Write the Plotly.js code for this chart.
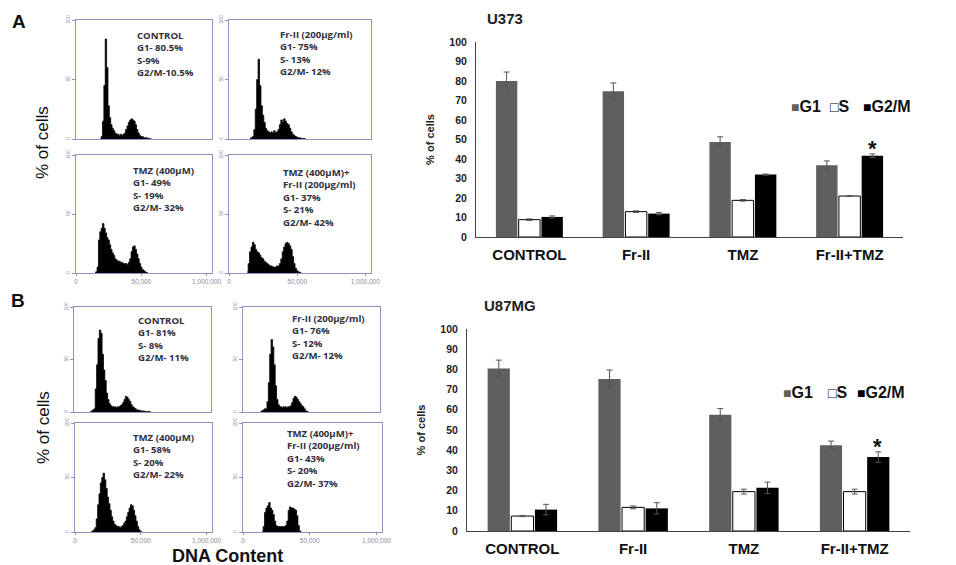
<!DOCTYPE html>
<html><head><meta charset="utf-8">
<script src="https://cdn.plot.ly/plotly-3.0.1.min.js"></script>
<style>html,body{margin:0;padding:0;background:#fff}</style>
</head><body><div id="chart" style="width:956px;height:565px"></div>
<script>
// ---------------- data ----------------
const treatments = ['CONTROL', 'Fr-II', 'TMZ', 'Fr-II+TMZ'];
const phaseNames = ['G1', 'S', 'G2/M'];

const u373G1 = [80, 74.7, 48.7, 36.8];
const u373G1Err = [4.6, 4.3, 2.7, 2.2];
const u373S = [8.9, 13, 18.8, 21];
const u373SErr = [0.4, 0.4, 0.4, 0.2];
const u373G2M = [10.3, 12, 32, 41.7];
const u373G2MErr = [0.5, 0.6, 0.3, 0.9];

const u87G1 = [80.5, 75.2, 57.5, 42.5];
const u87G1Err = [4.1, 4.5, 3.1, 2.0];
const u87S = [7.4, 11.7, 19.5, 19.5];
const u87SErr = [0.3, 0.7, 1.2, 1.2];
const u87G2M = [10.6, 11.2, 21.4, 36.6];
const u87G2MErr = [2.6, 2.8, 2.8, 2.6];

// flow cytometry histograms: counts (% of panel height) per DNA-content bin, first bin given separately
const histTickVals = [0, 48, 96];
const histTickText = ['0', '50,000', '1,000,000'];
const histYTickVals = [0, 50, 100];
const histYTickText = ['0', '50', '100'];

const histA_ctrlStart = 18;
const histA_ctrl = [0,2,15,45,84,60,28,18,12,9,7,5,4,4,3,4,3,4,5,8,11,14,16,17,16,15,12,8,5,3,2,2,1,1,1,0.5,0.5,0,0];
const histA_frStart = 15;
const histA_fr = [1,1,2,8,25,50,67,45,28,20,14,9,7,6,5,6,5,7,5,6,8,12,16,14,17,15,13,12,9,6,4,3,2,1.5,1,1,0.5,0.5,0.5,0];
const histA_tmzStart = 14;
const histA_tmz = [0.5,1,5,28,35,38,42,38,34,30,28,24,20,17,15,12,11,10,10,9,9,8,8,8,7,9,12,18,22,23,20,16,12,8,5,3,2,1,0.5,0];
const histA_comboStart = 13;
const histA_combo = [1,8,18,22,26,24,20,18,17,15,13,12,10,9,8,7,6,6,5,5,5,6,6,8,12,18,22,25,26,25,23,20,14,8,4,2,1,0.5,0];
const histB_ctrlStart = 12;
const histB_ctrl = [0.5,1,2,3,22,45,70,78,75,55,40,30,18,12,8,6,5,5,5,4,5,5,6,7,9,12,15,14,12,10,7,5,4,3,2,2,1.5,1,1,1,0.5,0.5,0.5,0.5,0];
const histB_frStart = 13;
const histB_fr = [1,1,2,3,3,10,28,55,69,62,45,25,12,7,5,5,4,5,5,4,5,5,6,9,13,15,14,12,10,8,6,5,3,1,0.5,0];
const histB_tmzStart = 12;
const histB_tmz = [0.5,1,2,4,12,25,35,45,50,54,48,40,32,26,20,14,10,7,6,5,5,4,5,6,8,10,14,18,22,25,24,20,15,10,5,2,0.5,0];
const histB_comboStart = 14;
const histB_combo = [1,5,18,22,24,27,22,20,16,10,6,5,5,5,5,5,5,6,10,20,23,22,22,21,20,15,6,1,0];

const histLabels = [
  ['CONTROL', 'G1- 80.5%', 'S-9%', 'G2/M-10.5%'],
  ['Fr-II (200µg/ml)', 'G1- 75%', 'S- 13%', 'G2/M- 12%'],
  ['TMZ (400µM)', 'G1- 49%', 'S- 19%', 'G2/M- 32%'],
  ['TMZ (400µM)+', 'Fr-II (200µg/ml)', 'G1- 37%', 'S- 21%', 'G2/M- 42%'],
  ['CONTROL', 'G1- 81%', 'S- 8%', 'G2/M- 11%'],
  ['Fr-II (200µg/ml)', 'G1- 76%', 'S- 12%', 'G2/M- 12%'],
  ['TMZ (400µM)', 'G1- 58%', 'S- 20%', 'G2/M- 22%'],
  ['TMZ (400µM)+', 'Fr-II (200µg/ml)', 'G1- 43%', 'S- 20%', 'G2/M- 37%']
];

// ---------------- layout helpers ----------------
const W = 956, H = 565;
const px = v => v / W;
const py = v => 1 - v / H;
const ARIAL = 'Arial, "Liberation Sans", sans-serif';

const histSets = [
  [histA_ctrl, histA_ctrlStart], [histA_fr, histA_frStart], [histA_tmz, histA_tmzStart], [histA_combo, histA_comboStart],
  [histB_ctrl, histB_ctrlStart], [histB_fr, histB_frStart], [histB_tmz, histB_tmzStart], [histB_combo, histB_comboStart]
];
// panel boxes [left, top, right, bottom] in px, label anchor [x, top-y], bottom-row flag
const panelGeo = [
  {box: [76, 20, 212, 139], lab: [136, 28], bottom: false},
  {box: [229, 20, 371, 139], lab: [279, 27], bottom: false},
  {box: [76, 155, 212, 273], lab: [132, 163], bottom: true},
  {box: [229, 155, 371, 273], lab: [282, 165], bottom: true},
  {box: [74, 307, 211, 412], lab: [137, 313], bottom: false},
  {box: [243, 307, 380, 412], lab: [291, 311], bottom: false},
  {box: [75, 423, 212, 532], lab: [132, 430], bottom: true},
  {box: [243, 423, 382, 532], lab: [286, 426], bottom: true}
];

const traces = [];
const layout = {
  width: W, height: H,
  margin: {l: 0, r: 0, t: 0, b: 0},
  paper_bgcolor: '#fff', plot_bgcolor: 'rgba(0,0,0,0)',
  showlegend: false,
  barmode: 'group', bargap: 0.36, bargroupgap: 0.06,
  font: {family: ARIAL, color: '#111'},
  annotations: []
};

const boxColor = '#8e93c2';
histSets.forEach((hs, i) => {
  const n = i + 1;
  const counts = hs[0], start = hs[1];
  const xs = counts.map((_, k) => start + k);
  traces.push({
    type: 'scatter', mode: 'lines', x: xs, y: counts,
    xaxis: 'x' + n, yaxis: 'y' + n,
    line: {color: '#000', width: 0.8, shape: 'hvh'},
    fill: 'tozeroy', fillcolor: '#000', hoverinfo: 'skip'
  });
  const g = panelGeo[i];
  layout['xaxis' + n] = {
    domain: [px(g.box[0]), px(g.box[2])], anchor: 'y' + n, range: [0, 100],
    showline: true, mirror: true, linecolor: boxColor, linewidth: 1.3,
    showgrid: false, zeroline: false, automargin: false, fixedrange: true,
    tickmode: 'array', tickvals: g.bottom ? histTickVals : [], ticktext: histTickText,
    ticks: g.bottom ? 'outside' : '', ticklen: 2, tickcolor: boxColor,
    tickfont: {size: 6.5, color: '#8a8a9c'}
  };
  layout['yaxis' + n] = {
    domain: [py(g.box[3]), py(g.box[1])], anchor: 'x' + n, range: [0, 100],
    showline: true, mirror: true, linecolor: boxColor, linewidth: 1.3,
    showgrid: false, zeroline: false, automargin: false, fixedrange: true,
    tickmode: 'array', tickvals: histYTickVals, ticktext: histYTickText,
    ticks: 'outside', ticklen: 3, tickcolor: boxColor, tickangle: -90,
    tickfont: {size: 5, color: '#8a8a9c'}
  };
  layout.annotations.push({
    xref: 'paper', yref: 'paper', x: px(g.lab[0]), y: py(g.lab[1]),
    xanchor: 'left', yanchor: 'top', align: 'left', showarrow: false,
    text: histLabels[i].join('<br>'), borderpad: 0,
    font: {family: '"Open Sans", sans-serif', size: 9.6, weight: 'bold', color: '#30303e'}
  });
});

// ---------------- bar charts ----------------
const barSets = [
  {title: 'U373', g1: u373G1, g1e: u373G1Err, s: u373S, se: u373SErr, g2: u373G2M, g2e: u373G2MErr,
   ax: 9, xdom: [476, 903], ydom: [42, 237], titlePos: [485, 18], legY: 107, legX: [789, 828, 861]},
  {title: 'U87MG', g1: u87G1, g1e: u87G1Err, s: u87S, se: u87SErr, g2: u87G2M, g2e: u87G2MErr,
   ax: 10, xdom: [467, 910], ydom: [329, 531], titlePos: [482, 305], legY: 393, legX: [781, 826, 855]}
];
const phaseStyles = [
  {color: '#5f5f5f', line: {color: '#5f5f5f', width: 0}},
  {color: '#ffffff', line: {color: '#000', width: 1}},
  {color: '#000000', line: {color: '#000', width: 0}}
];
barSets.forEach(b => {
  const xa = 'x' + b.ax, ya = 'y' + b.ax;
  const vals = [b.g1, b.s, b.g2], errs = [b.g1e, b.se, b.g2e];
  phaseNames.forEach((p, k) => {
    traces.push({
      type: 'bar', name: p, x: treatments, y: vals[k], xaxis: xa, yaxis: ya,
      marker: phaseStyles[k],
      error_y: {type: 'data', array: errs[k], visible: true, color: '#555', thickness: 1, width: 3},
      hoverinfo: 'skip'
    });
  });
  layout['xaxis' + b.ax] = {
    domain: [px(b.xdom[0]), px(b.xdom[1])], anchor: ya, type: 'category',
    showline: true, linecolor: '#444', linewidth: 1, ticks: '', showgrid: false,
    automargin: false, fixedrange: true, ticklabelstandoff: 4,
    tickfont: {family: ARIAL, size: 15, weight: 'bold', color: '#111'}
  };
  layout['yaxis' + b.ax] = {
    domain: [py(b.ydom[1]), py(b.ydom[0])], anchor: xa, range: [0, 100], dtick: 10,
    showline: true, linecolor: '#444', linewidth: 1, ticks: '', showgrid: false, zeroline: false,
    automargin: false, fixedrange: true, ticklabelstandoff: 6,
    tickfont: {family: ARIAL, size: 10.5, weight: 'bold', color: '#222'},
    title: {text: '% of cells', standoff: 12, font: {family: ARIAL, size: 11, weight: 'bold', color: '#222'}}
  };
  layout.annotations.push({
    xref: 'paper', yref: 'paper', x: px(b.titlePos[0]), y: py(b.titlePos[1]),
    xanchor: 'left', yanchor: 'middle', showarrow: false, text: b.title,
    font: {family: ARIAL, size: 15, weight: 'bold', color: '#222'}
  });
  const legTexts = [
    '<span style="color:#5f5f5f;font-size:14px">■</span>G1',
    '<span style="color:#000;font-size:14px">□</span>S',
    '<span style="color:#000;font-size:14px">■</span>G2/M'
  ];
  legTexts.forEach((t, k) => {
    layout.annotations.push({
      xref: 'paper', yref: 'paper', x: px(b.legX[k]), y: py(b.legY),
      xanchor: 'left', yanchor: 'middle', showarrow: false, text: t,
      font: {family: ARIAL, size: 16, weight: 'bold', color: '#111'}
    });
  });
  layout.annotations.push({
    xref: xa, yref: ya, x: treatments[3], y: b.g2[3] + b.g2e[3],
    xshift: 23, yshift: -9, xanchor: 'center', yanchor: 'bottom', showarrow: false,
    text: '*', font: {family: ARIAL, size: 22, weight: 'bold', color: '#111'}
  });
});

// ---------------- figure labels ----------------
const bigLabels = [
  {text: 'A', x: 19, y: 21, size: 19, weight: 'bold', angle: 0},
  {text: 'B', x: 18, y: 300, size: 19, weight: 'bold', angle: 0},
  {text: '% of cells', x: 42, y: 143, size: 17, weight: 'normal', angle: -90},
  {text: '% of cells', x: 43, y: 428, size: 17, weight: 'normal', angle: -90},
  {text: 'DNA Content', x: 227, y: 556, size: 18, weight: 'bold', angle: 0}
];
bigLabels.forEach(l => {
  layout.annotations.push({
    xref: 'paper', yref: 'paper', x: px(l.x), y: py(l.y), xanchor: 'center', yanchor: 'middle',
    showarrow: false, text: l.text, textangle: l.angle,
    font: {family: ARIAL, size: l.size, weight: l.weight, color: '#111'}
  });
});

Plotly.newPlot('chart', traces, layout, {staticPlot: true, displayModeBar: false});
</script></body></html>
